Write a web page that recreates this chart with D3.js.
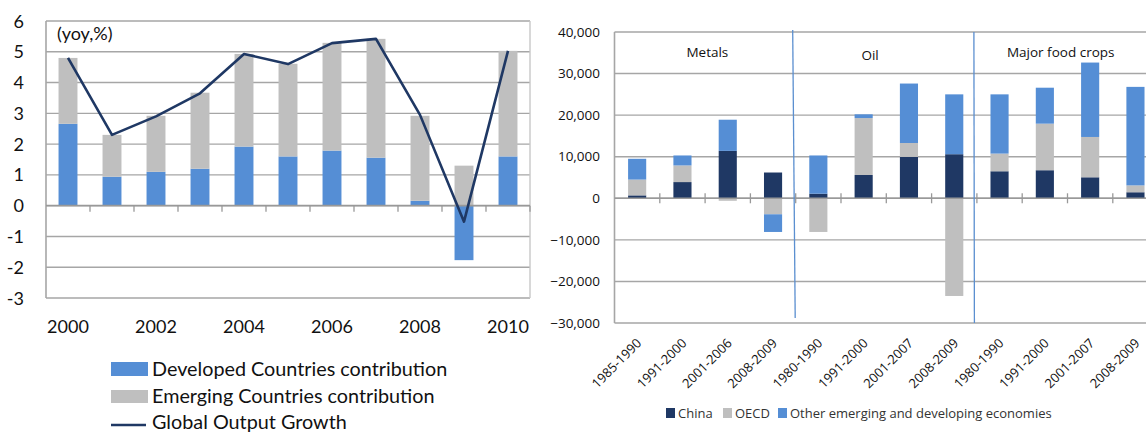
<!DOCTYPE html>
<html>
<head>
<meta charset="utf-8">
<script src="https://cdn.jsdelivr.net/npm/d3@7"></script>
<style>
  html, body { margin: 0; padding: 0; background: #fff; }
  svg { display: block; }
</style>
</head>
<body>
<svg id="chart" width="1146" height="434"></svg>
<script>
// ---- Left panel: global output growth and its contributions (yoy, %) ----
const years = [2000, 2001, 2002, 2003, 2004, 2005, 2006, 2007, 2008, 2009, 2010];
const developed = [2.66, 0.94, 1.1, 1.2, 1.92, 1.6, 1.79, 1.56, 0.16, -1.77, 1.6];
const emerging = [2.14, 1.36, 1.82, 2.47, 3.01, 3.01, 3.5, 3.86, 2.76, 1.3, 3.43];
const globalGrowth = [4.8, 2.3, 2.9, 3.65, 4.93, 4.6, 5.28, 5.42, 2.95, -0.52, 5.03];
const leftTicks = [6, 5, 4, 3, 2, 1, 0, -1, -2, -3];
const leftYearLabels = [2000, 2002, 2004, 2006, 2008, 2010];
const leftLegend = ["Developed Countries contribution", "Emerging Countries contribution", "Global Output Growth"];

// ---- Right panel: demand increase by commodity group and period ----
const periods = ["1985-1990", "1991-2000", "2001-2006", "2008-2009",
                 "1980-1990", "1991-2000", "2001-2007", "2008-2009",
                 "1980-1990", "1991-2000", "2001-2007", "2008-2009"];
const groups = ["Metals", "Oil", "Major food crops"];
const china = [700, 3900, 11400, 6200, 1100, 5600, 9950, 10600, 6500, 6750, 5050, 1450];
const oecd = [3800, 4000, -600, -3850, -8100, 13700, 3350, -23500, 4250, 11200, 9700, 1650];
const other = [5000, 2400, 7500, -4250, 9200, 900, 14300, 14400, 14250, 8650, 17900, 23700];
const rightTicks = [40000, 30000, 20000, 10000, 0, -10000, -20000, -30000];
const rightLegend = ["China", "OECD", "Other emerging and developing economies"];

const BLUE = "#558ed5", GRAY = "#bfbfbf", NAVY = "#1f3864", GRID = "#a6a6a6";

const svg = d3.select("#chart");

// ================= Left panel =================
{
  const x = d3.scaleBand().domain(years).range([46, 530]).paddingInner(0.57).paddingOuter(0.285);
  const y = d3.scaleLinear().domain([-3, 6]).range([298, 21]);
  const g = svg.append("g");
  const font = "Lato, 'Open Sans', sans-serif";

  // gridlines
  g.selectAll("line.grid").data(leftTicks).join("line")
    .attr("x1", 46).attr("x2", 530)
    .attr("y1", d => y(d)).attr("y2", d => y(d))
    .attr("stroke", GRID).attr("stroke-width", 1.4);
  // frame sides
  g.append("line").attr("x1", 46).attr("x2", 46).attr("y1", y(6)).attr("y2", y(-3))
    .attr("stroke", GRID).attr("stroke-width", 1.6);
  g.append("line").attr("x1", 530).attr("x2", 530).attr("y1", y(6)).attr("y2", y(-3))
    .attr("stroke", "#c8c8c8").attr("stroke-width", 1.4);

  // y tick labels
  g.selectAll("text.yt").data(leftTicks).join("text")
    .attr("x", 24).attr("y", d => y(d) + 6.5)
    .attr("text-anchor", "end")
    .attr("font-family", font).attr("font-size", 18).attr("fill", "#111")
    .text(d => d);

  // stacked bars
  const rows = years.map((yr, i) => ({ year: yr, developed: developed[i], emerging: emerging[i] }));
  const stack = d3.stack().keys(["developed", "emerging"]).offset(d3.stackOffsetDiverging)(rows);
  const colors = { developed: BLUE, emerging: GRAY };
  stack.forEach(s => {
    g.selectAll(null).data(s).join("rect")
      .attr("x", d => x(d.data.year))
      .attr("width", x.bandwidth())
      .attr("y", d => y(Math.max(d[0], d[1])))
      .attr("height", d => Math.abs(y(d[0]) - y(d[1])))
      .attr("fill", colors[s.key]);
  });

  // zero axis + ticks
  g.append("line").attr("x1", 46).attr("x2", 530).attr("y1", y(0)).attr("y2", y(0))
    .attr("stroke", "#999").attr("stroke-width", 1.6);
  const step = x.step();
  g.selectAll("line.tk").data(d3.range(1, years.length + 1)).join("line")
    .attr("x1", k => 46 + k * step).attr("x2", k => 46 + k * step)
    .attr("y1", y(0)).attr("y2", y(0) + 6)
    .attr("stroke", "#999").attr("stroke-width", 1.3);

  // global growth line
  const line = d3.line().x((d, i) => x(years[i]) + x.bandwidth() / 2).y(d => y(d));
  g.append("path").datum(globalGrowth).attr("d", line)
    .attr("fill", "none").attr("stroke", NAVY).attr("stroke-width", 2.6)
    .attr("stroke-linejoin", "round");

  // x labels
  g.selectAll("text.xl").data(leftYearLabels).join("text")
    .attr("x", d => x(d) + x.bandwidth() / 2).attr("y", 333)
    .attr("text-anchor", "middle")
    .attr("font-family", font).attr("font-size", 18).attr("fill", "#111")
    .text(d => d);

  // unit note
  g.append("text").attr("x", 57).attr("y", 40)
    .attr("font-family", font).attr("font-size", 18).attr("fill", "#111")
    .text("(yoy,%)");

  // legend
  const lg = svg.append("g").attr("font-family", font).attr("font-size", 19.8).attr("fill", "#111");
  lg.append("rect").attr("x", 111).attr("y", 362).attr("width", 37).attr("height", 14).attr("fill", BLUE);
  lg.append("rect").attr("x", 111).attr("y", 390).attr("width", 37).attr("height", 13).attr("fill", GRAY);
  lg.append("line").attr("x1", 111).attr("x2", 146).attr("y1", 425).attr("y2", 425)
    .attr("stroke", NAVY).attr("stroke-width", 2.6);
  lg.selectAll("text").data(leftLegend).join("text")
    .attr("x", 152).attr("y", (d, i) => [376, 403, 429][i])
    .text(d => d);
}

// ================= Right panel =================
{
  const idx = d3.range(periods.length);
  const x0 = 614.5, step = 45.3;
  const x = d3.scaleBand().domain(idx).range([x0, x0 + step * periods.length]).paddingInner(0.6).paddingOuter(0.3);
  const y = d3.scaleLinear().domain([-30000, 40000]).range([323, 32]);
  const g = svg.append("g");
  const font = "'Open Sans', sans-serif";
  const xEnd = x0 + step * periods.length;

  g.selectAll("line.grid").data(rightTicks).join("line")
    .attr("x1", x0).attr("x2", xEnd)
    .attr("y1", d => y(d)).attr("y2", d => y(d))
    .attr("stroke", GRID).attr("stroke-width", 1.4);
  g.append("line").attr("x1", x0).attr("x2", x0).attr("y1", y(40000)).attr("y2", y(-30000))
    .attr("stroke", GRID).attr("stroke-width", 1.6);

  const fmt = d3.format(",");
  g.selectAll("text.yt").data(rightTicks).join("text")
    .attr("x", 600).attr("y", d => y(d) + 4.7)
    .attr("text-anchor", "end")
    .attr("font-family", font).attr("font-size", 13.5).attr("fill", "#111")
    .text(d => fmt(d));

  const rows = idx.map(i => ({ i, china: china[i], oecd: oecd[i], other: other[i] }));
  const stack = d3.stack().keys(["china", "oecd", "other"]).offset(d3.stackOffsetDiverging)(rows);
  const colors = { china: NAVY, oecd: GRAY, other: BLUE };
  stack.forEach(s => {
    g.selectAll(null).data(s).join("rect")
      .attr("x", d => x(d.data.i))
      .attr("width", x.bandwidth())
      .attr("y", d => y(Math.max(d[0], d[1])))
      .attr("height", d => Math.abs(y(d[0]) - y(d[1])))
      .attr("fill", colors[s.key]);
  });

  // zero axis with crossing ticks
  g.append("line").attr("x1", x0).attr("x2", xEnd).attr("y1", y(0)).attr("y2", y(0))
    .attr("stroke", "#999").attr("stroke-width", 1.5);
  g.selectAll("line.tk").data(d3.range(1, periods.length)).join("line")
    .attr("x1", k => x0 + k * step).attr("x2", k => x0 + k * step)
    .attr("y1", y(0) - 5).attr("y2", y(0) + 5)
    .attr("stroke", "#999").attr("stroke-width", 1.3);

  // group separators
  const sep = [[4, -3, -0.5, y(40000) - 2, 318], [8, -3, -2.5, y(40000), y(-30000)]];
  g.selectAll("line.sep").data(sep).join("line")
    .attr("x1", d => x0 + d[0] * step + d[1]).attr("x2", d => x0 + d[0] * step + d[2])
    .attr("y1", d => d[3]).attr("y2", d => d[4])
    .attr("stroke", "#5b8fd0").attr("stroke-width", 1.3);

  // group labels
  const gpos = [[2.05, "middle", 57], [5.45, "start", 60], [9.85, "middle", 57]];
  g.selectAll("text.grp").data(groups).join("text")
    .attr("x", (d, i) => x0 + gpos[i][0] * step)
    .attr("y", (d, i) => gpos[i][2])
    .attr("text-anchor", (d, i) => gpos[i][1])
    .attr("font-family", font).attr("font-size", 13.5).attr("fill", "#111")
    .text(d => d);

  // rotated period labels
  g.selectAll("text.xl").data(idx).join("text")
    .attr("transform", i => `translate(${x(i) + x.bandwidth() / 2 + 5},344) rotate(-45)`)
    .attr("text-anchor", "end")
    .attr("font-family", font).attr("font-size", 13).attr("fill", "#111")
    .text(i => periods[i]);

  // legend
  const lg = svg.append("g").attr("font-family", font).attr("font-size", 13).attr("fill", "#333");
  const lx = [666, 723, 778];
  const lc = [NAVY, GRAY, BLUE];
  lg.selectAll("rect").data(rightLegend).join("rect")
    .attr("x", (d, i) => lx[i]).attr("y", 408).attr("width", 9).attr("height", 10)
    .attr("fill", (d, i) => lc[i]);
  lg.selectAll("text").data(rightLegend).join("text")
    .attr("x", (d, i) => lx[i] + 12).attr("y", 417.5)
    .text(d => d);
}
</script>
</body>
</html>
